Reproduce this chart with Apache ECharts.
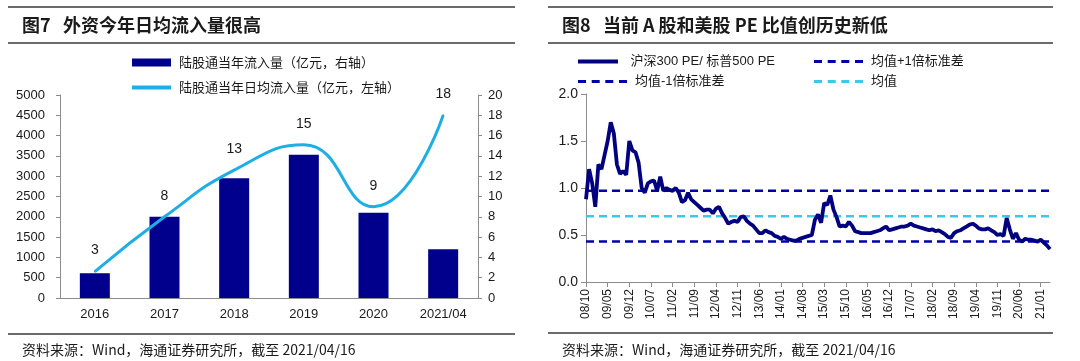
<!DOCTYPE html>
<html><head><meta charset="utf-8">
<script src="https://cdn.jsdelivr.net/npm/echarts@6/dist/echarts.min.js"></script>
<style>html,body{margin:0;padding:0;background:#fff}#c{width:1080px;height:361px}</style>
</head><body><div id="c"></div>
<script>
// ---------- Figure 7 data ----------
const leftCategories = ['2016', '2017', '2018', '2019', '2020', '2021/04'];
const annualInflow = [610, 2000, 2950, 3530, 2100, 1200];      // 陆股通当年流入量
const dailyAvgInflow = [2.6, 8.0, 12.6, 15.1, 9.0, 18.0];       // 陆股通当年日均流入量
const leftAxisMax = 5000, leftAxisStep = 500;
const rightAxisMax = 20, rightAxisStep = 2;

// ---------- Figure 8 data ----------
const startYear = 2008, startMonth = 10, monthCount = 151;      // 2008/10 .. 2021/04
const peRatio = [
  0.88, 1.20, 1.05, 0.80, 1.25, 1.20, 1.35, 1.50, 1.70, 1.58,
  1.25, 1.15, 1.18, 1.14, 1.50, 1.40, 1.38, 1.27, 1.00, 0.95,
  1.05, 1.07, 1.08, 0.97, 1.12, 0.97, 1.00, 0.98, 0.97, 1.00,
  0.95, 0.85, 0.87, 0.95, 0.88, 0.85, 0.82, 0.79, 0.76, 0.77,
  0.77, 0.73, 0.78, 0.80, 0.73, 0.68, 0.62, 0.64, 0.65, 0.64,
  0.69, 0.70, 0.65, 0.62, 0.60, 0.56, 0.52, 0.52, 0.55, 0.53,
  0.52, 0.49, 0.48, 0.46, 0.48, 0.46, 0.45, 0.44, 0.44, 0.46,
  0.47, 0.48, 0.49, 0.50, 0.66, 0.72, 0.63, 0.84, 0.82, 0.92,
  0.77, 0.69, 0.59, 0.60, 0.59, 0.64, 0.60, 0.54, 0.53, 0.52,
  0.52, 0.52, 0.52, 0.53, 0.54, 0.55, 0.57, 0.59, 0.55, 0.56,
  0.57, 0.58, 0.59, 0.59, 0.60, 0.62, 0.60, 0.59, 0.58, 0.57,
  0.56, 0.55, 0.56, 0.54, 0.55, 0.53, 0.51, 0.48, 0.47, 0.52,
  0.54, 0.55, 0.57, 0.59, 0.61, 0.62, 0.60, 0.57, 0.56, 0.56,
  0.57, 0.55, 0.53, 0.50, 0.51, 0.49, 0.68, 0.56, 0.46, 0.52,
  0.45, 0.43, 0.46, 0.45, 0.45, 0.44, 0.43, 0.45, 0.42, 0.39, 0.35
];
const meanPlusSd = 0.97;
const meanValue = 0.70;
const meanMinusSd = 0.43;
const peAxisMax = 2.0, peAxisStep = 0.5;

const months = [];
for (let i = 0; i < monthCount; i++) {
  const t = (startMonth - 1) + i;
  const y = startYear + Math.floor(t / 12);
  const m = (t % 12) + 1;
  months.push(String(y % 100).padStart(2, '0') + '/' + String(m).padStart(2, '0'));
}

const FONT = '"Liberation Sans","Noto Sans CJK SC",sans-serif';
const CJK = '"Noto Sans CJK SC","Liberation Sans",sans-serif';
const AXIS = '#8c8c8c';
const TXT = '#1a1a1a';
const BAR = '#00008c';
const LINE = '#1eaee6';
const NAVY = '#000080';
const DASH = '#0000aa';
const CYAN = '#3cc8e8';

const n1 = '陆股通当年流入量（亿元，右轴）';
const n2 = '陆股通当年日均流入量（亿元，左轴）';
const s1 = '沪深300 PE/ 标普500 PE';
const s2 = '均值+1倍标准差';
const s3 = '均值-1倍标准差';
const s4 = '均值';

const ICON_SOLID = 'path://M0,0H40V4H0Z';
const ICON_DASH = 'path://M0,0H8V3H0ZM13.7,0H21.7V3H13.7ZM27.3,0H35.3V3H27.3ZM41,0H49V3H41Z';

function rule(x1, x2, y) {
  return { type: 'line', shape: { x1: x1, y1: y, x2: x2, y2: y }, style: { stroke: '#3a3a3a', lineWidth: 1.5 }, silent: true };
}
function txt(x, y, s, size, weight) {
  return { type: 'text', x: x, y: y, style: { text: s, fontSize: size, fontWeight: weight || 'normal', fill: TXT, fontFamily: CJK, textVerticalAlign: 'middle' }, silent: true };
}
function leg(name, icon, left, top, w, h, font) {
  return { left: left, top: top, itemWidth: w, itemHeight: h, icon: icon,
    textStyle: { fontSize: 13, color: TXT, fontFamily: font, padding: [0, 0, 0, 3] },
    data: [name] };
}

const chart = echarts.init(document.getElementById('c'), null, { renderer: 'canvas' });
chart.setOption({
  animation: false,
  backgroundColor: '#fff',
  textStyle: { fontFamily: FONT },
  graphic: [
    rule(8, 515, 7), rule(8, 515, 43), rule(8, 515, 334),
    rule(548, 1053, 7), rule(548, 1053, 43), rule(548, 1053, 333),
    txt(22, 25, '图7   外资今年日均流入量很高', 18, 'bold'),
    txt(562, 25, '图8   当前 A 股和美股 PE 比值创历史新低', 18, 'bold'),
    txt(22, 350, '资料来源：Wind，海通证券研究所，截至 2021/04/16', 14),
    txt(562, 350, '资料来源：Wind，海通证券研究所，截至 2021/04/16', 14)
  ],
  legend: [
    leg(n1, 'rect', 127, 51, 39, 8, CJK),
    leg(n2, ICON_SOLID, 127, 76, 39, 4, CJK),
    leg(s1, ICON_SOLID, 573, 50, 49, 4, FONT),
    leg(s3, ICON_DASH, 573, 70, 49, 3, FONT),
    leg(s2, ICON_DASH, 809, 50, 49, 3, FONT),
    leg(s4, ICON_DASH, 809, 70, 49, 3, FONT)
  ],
  grid: [
    { left: 60, right: 602, top: 95, bottom: 63 },
    { left: 586, right: 30, top: 94, bottom: 79 }
  ],
  xAxis: [
    { gridIndex: 0, type: 'category', data: leftCategories,
      axisLine: { lineStyle: { color: AXIS } },
      axisTick: { length: 5, lineStyle: { color: AXIS } },
      axisLabel: { margin: 10, fontSize: 13, color: TXT } },
    { gridIndex: 1, type: 'category', data: months, boundaryGap: false,
      axisLine: { lineStyle: { color: AXIS } },
      axisTick: { interval: 6, length: 5, lineStyle: { color: AXIS } },
      axisLabel: { interval: 6, rotate: 90, margin: 7, fontSize: 12, color: TXT } }
  ],
  yAxis: [
    { gridIndex: 0, type: 'value', position: 'left', min: 0, max: leftAxisMax, interval: leftAxisStep,
      axisLine: { show: true, lineStyle: { color: AXIS } },
      axisTick: { show: true, length: 4, lineStyle: { color: AXIS } },
      splitLine: { show: false },
      axisLabel: { margin: 15, fontSize: 13, color: TXT, formatter: v => String(v) } },
    { gridIndex: 0, type: 'value', position: 'right', min: 0, max: rightAxisMax, interval: rightAxisStep,
      axisLine: { show: true, lineStyle: { color: AXIS } },
      axisTick: { show: true, length: 4, lineStyle: { color: AXIS } },
      splitLine: { show: false },
      axisLabel: { margin: 10, fontSize: 13, color: TXT, formatter: v => String(v) } },
    { gridIndex: 1, type: 'value', min: 0, max: peAxisMax, interval: peAxisStep,
      axisLine: { show: true, lineStyle: { color: AXIS } },
      axisTick: { show: true, length: 5, lineStyle: { color: AXIS } },
      splitLine: { show: false },
      axisLabel: { margin: 8, fontSize: 14, color: TXT, formatter: v => v.toFixed(1) } }
  ],
  series: [
    { name: n1, type: 'bar', xAxisIndex: 0, yAxisIndex: 0, data: annualInflow, barWidth: 30,
      itemStyle: { color: BAR } },
    { name: n2, type: 'line', xAxisIndex: 0, yAxisIndex: 1, data: dailyAvgInflow, smooth: true,
      symbol: 'circle', symbolSize: 2, itemStyle: { color: LINE },
      lineStyle: { width: 3, color: LINE },
      label: { show: true, position: 'top', distance: 13, fontSize: 14, color: TXT,
        formatter: p => Math.round(p.value) } },
    { name: s2, type: 'line', xAxisIndex: 1, yAxisIndex: 2, data: months.map(() => meanPlusSd),
      symbol: 'none', z: 2, itemStyle: { color: DASH },
      lineStyle: { width: 2.5, color: DASH, type: [8, 5] } },
    { name: s4, type: 'line', xAxisIndex: 1, yAxisIndex: 2, data: months.map(() => meanValue),
      symbol: 'none', z: 2, itemStyle: { color: CYAN },
      lineStyle: { width: 2.5, color: CYAN, type: [8, 5] } },
    { name: s3, type: 'line', xAxisIndex: 1, yAxisIndex: 2, data: months.map(() => meanMinusSd),
      symbol: 'none', z: 2, itemStyle: { color: DASH },
      lineStyle: { width: 2.5, color: DASH, type: [8, 5] } },
    { name: s1, type: 'line', xAxisIndex: 1, yAxisIndex: 2, data: peRatio,
      symbol: 'none', z: 3, itemStyle: { color: NAVY },
      lineStyle: { width: 3.8, color: NAVY } }
  ]
});
</script>
</body></html>
